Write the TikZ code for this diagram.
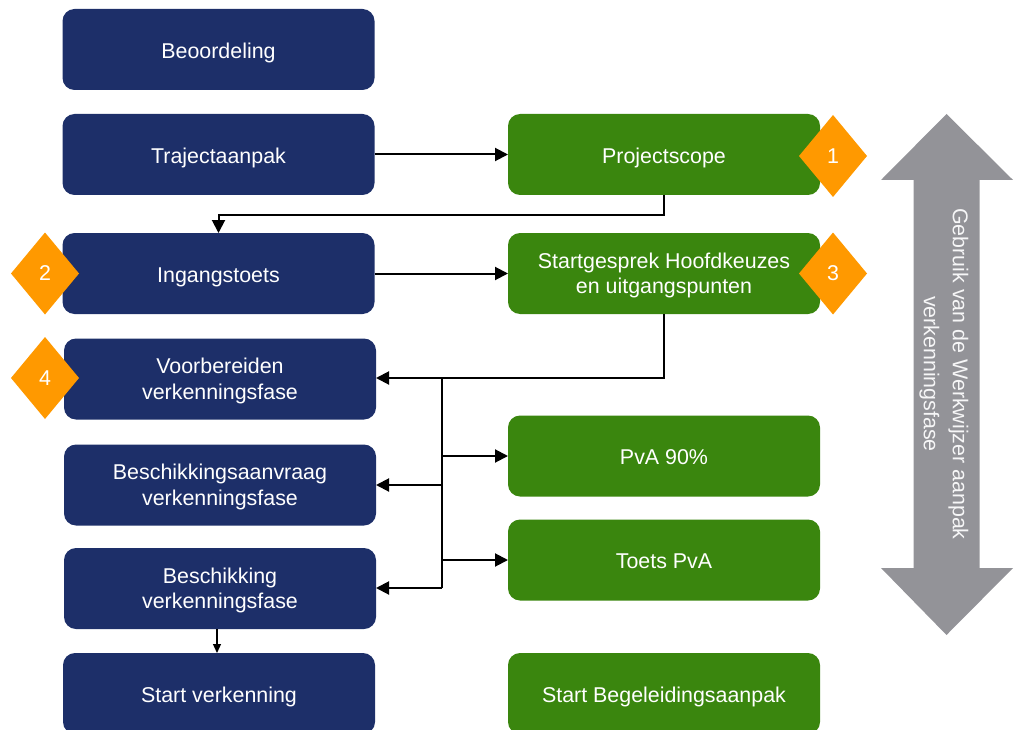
\documentclass[tikz,border=0pt]{standalone}
\usepackage{fontspec}
\setmainfont{Liberation Sans}
\usetikzlibrary{shapes.geometric,arrows.meta}
\definecolor{navy}{HTML}{1D2F69}
\definecolor{leaf}{HTML}{3A860E}
\definecolor{amber}{HTML}{FF9900}
\definecolor{steel}{HTML}{939398}
\tikzset{
  box/.style={rectangle, rounded corners=12pt, minimum width=312pt, minimum height=81pt,
    inner sep=0pt, outer sep=0pt, align=center, text=white,
    font=\fontsize{21.4}{25.3}\selectfont, text height=22pt, text depth=4.5pt},
  twolines/.style={text height=45pt, text depth=4.5pt},
  bluebox/.style={box, fill=navy},
  greenbox/.style={box, fill=leaf},
  badge/.style={diamond, fill=amber, text=white, inner sep=0pt, outer sep=0pt,
    minimum width=68pt, minimum height=82pt, aspect=0.83,
    font=\fontsize{21.4}{25}\selectfont},
  conn/.style={line width=2pt, -{Triangle[length=13pt,width=13pt]}},
  thinconn/.style={line width=1.2pt, -{Triangle[length=9pt,width=8pt]}},
  plainline/.style={line width=2pt}
}
\begin{document}
\begin{tikzpicture}[x=1pt,y=-1pt]
\useasboundingbox (0,0) rectangle (1014,730);
\clip (0,0) rectangle (1014,730);
% blue column
\node[bluebox] (beo) at (218.5,49.5) {Beoordeling};
\node[bluebox] (traj) at (218.5,154.5) {Trajectaanpak};
\node[bluebox] (ing) at (218.5,273.5) {Ingangstoets};
\node[bluebox, twolines] (voor) at (220,379) {Voorbereiden\\verkenningsfase};
\node[bluebox, twolines] (aanv) at (220,485) {Beschikkingsaanvraag\\verkenningsfase};
\node[bluebox, twolines] (besch) at (220,588.5) {Beschikking\\verkenningsfase};
\node[bluebox] (startv) at (219,693.5) {Start verkenning};
% green column
\node[greenbox] (scope) at (664,154.5) {Projectscope};
\node[greenbox, twolines] (gesprek) at (664,273.5) {Startgesprek Hoofdkeuzes\\en uitgangspunten};
\node[greenbox] (pva) at (664,456) {PvA 90\%};
\node[greenbox] (toets) at (664,560) {Toets PvA};
\node[greenbox] (startb) at (664,693.5) {Start Begeleidingsaanpak};
% badges
\node[badge] (d1) at (833,156) {1};
\node[badge] (d2) at (45,273.5) {2};
\node[badge] (d3) at (833,273.5) {3};
\node[badge] (d4) at (45,378) {4};
% big double arrow
\fill[steel] (946.5,114) -- (1013,180) -- (979.5,180) -- (979.5,568) -- (1013,568)
  -- (946.5,635) -- (881,568) -- (913.5,568) -- (913.5,180) -- (881,180) -- cycle;
\node[rotate=-90, text=white!92!steel, align=center,
  font=\fontsize{21.4}{29}\selectfont] (use) at (944,374)
  {Gebruik van de Werkwijzer aanpak\\verkenningsfase};
% connectors
\coordinate (j1) at (664,215);
\coordinate (j2) at (664,378);
\coordinate (bus) at (442,378);
\coordinate (busend) at (442,588);
\draw[conn] (traj.east) -- (scope.west);
\draw[conn] (scope.south) -- (j1) -- (j1 -| ing.north) -- (ing.north);
\draw[conn] (ing.east) -- (gesprek.west);
\draw[conn] (gesprek.south) -- (j2) -- (j2 -| voor.east);
\draw[plainline] (bus) -- (busend);
\draw[conn] (bus |- pva.west) -- (pva.west);
\draw[conn] (bus |- aanv.east) -- (aanv.east);
\draw[conn] (bus |- toets.west) -- (toets.west);
\draw[conn] (busend) -- (busend -| besch.east);
\draw[thinconn] (besch.south -| 217,0) -- (startv.north -| 217,0);
\end{tikzpicture}
\end{document}
